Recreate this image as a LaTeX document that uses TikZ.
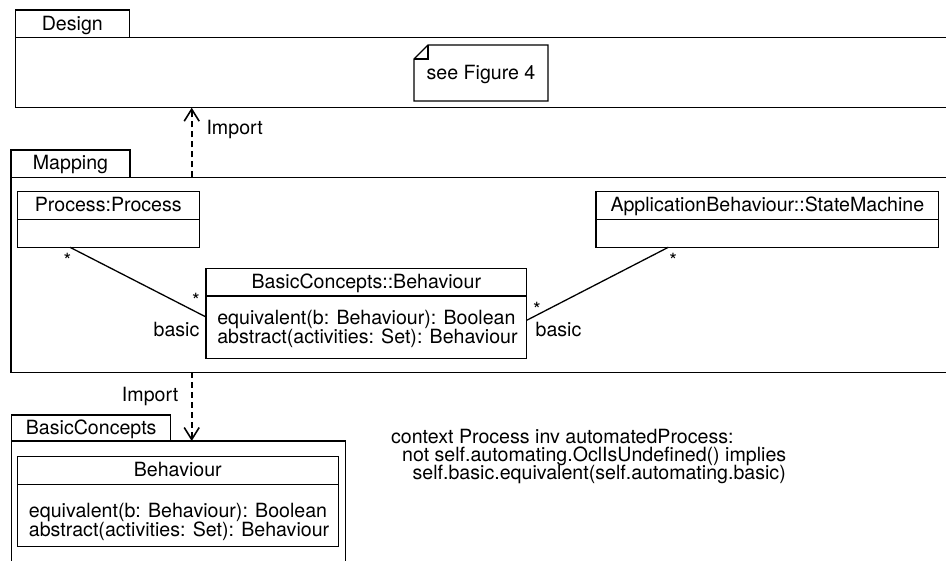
\documentclass[tikz,border=0pt]{standalone}
\usepackage{fontspec}
\setmainfont{TeX Gyre Heros}
\usetikzlibrary{arrows.meta}
\setlength{\lineskiplimit}{-10pt}

\begin{document}
\begin{tikzpicture}[x=1pt,y=-1pt,line width=1.3pt,
  every node/.style={font=\fontsize{19.6}{18.5}\selectfont},
  box/.style={draw,anchor=north west,inner sep=0pt,outer sep=0pt},
  head/.style={box,text height=14.5pt,text depth=2pt},
  ops/.style={anchor=base west,align=left,inner sep=0pt},
  lbl/.style={inner sep=0pt},
  import/.style={line width=1.6pt,dash pattern=on 6pt off 4pt,-{Straight Barb[length=12pt,width=15pt]}}]
\useasboundingbox (0,0) rectangle (946,561);
\clip (0,0) rectangle (946,561);

% Design
\node[head,minimum width=114pt,minimum height=27.7pt] (destab) at (15.3,10) {Design};
\node[box,minimum width=950pt,minimum height=70pt] (desbody) at (15.3,37.7) {};
\node[box,draw=none,minimum width=134pt,minimum height=56pt,text height=14.5pt,text depth=2pt] (note) at (414,45) {see Figure 4};
\draw ([yshift=-14pt]note.north west) -- ([xshift=14pt]note.north west) -- (note.north east) -- (note.south east) -- (note.south west) -- cycle;
\draw ([yshift=-14pt]note.north west) -| ([xshift=14pt]note.north west);

% Mapping
\node[head,minimum width=119pt,minimum height=27.3pt] (maptab) at (11,150) {Mapping};
\node[box,minimum width=950pt,minimum height=195pt] (mapbody) at (11,177.3) {};

\node[head,minimum width=182pt,minimum height=27.6pt] (proc) at (17.3,191.7) {Process:Process};
\node[box,minimum width=182pt,minimum height=28pt] (procb) at (proc.south west) {};

\node[head,minimum width=342.7pt,minimum height=27.6pt] (sm) at (596,191.7) {ApplicationBehaviour::StateMachine};
\node[box,minimum width=342.7pt,minimum height=28pt] (smb) at (sm.south west) {};

\node[head,minimum width=320.7pt,minimum height=27.7pt] (bc) at (206,268.3) {BasicConcepts::Behaviour};
\node[box,minimum width=320.7pt,minimum height=62.3pt] (bcb) at (bc.south west) {};
\node[ops] (bcops) at (216.7,343.3) {equivalent(b: Behaviour): Boolean\\abstract(activities: Set): Behaviour};

\draw ([xshift=52.7pt]procb.south west) -- ([yshift=-21pt]bcb.north west);
\draw ([yshift=-24.3pt]bcb.north east) -- ([xshift=72.3pt]smb.south west);
\node[lbl,anchor=base] (m1) at (67.5,267.7) {*};
\node[lbl,anchor=base] (m2) at (196,307.7) {*};
\node[lbl,anchor=base east] (r1) at (200,337) {basic};
\node[lbl,anchor=base] (m3) at (537,316.4) {*};
\node[lbl,anchor=base] (m4) at (673.3,267.7) {*};
\node[lbl,anchor=base west] (r2) at (535,337) {basic};

% BasicConcepts
\node[head,minimum width=159pt,minimum height=26pt] (bctab) at (11.7,415) {BasicConcepts};
\node[box,minimum width=334pt,minimum height=130pt] (bcpbody) at (11.7,441) {};

\node[head,minimum width=321pt,minimum height=27.6pt] (beh) at (17.3,456.7) {Behaviour};
\node[box,minimum width=321pt,minimum height=62.4pt] (behb) at (beh.south west) {};
\node[ops] (behops) at (28.3,536) {equivalent(b: Behaviour): Boolean\\abstract(activities: Set): Behaviour};

% imports
\coordinate (imp) at (191.7,0);
\draw[import] (imp |- mapbody.north) -- (imp |- desbody.south) node[lbl,pos=0.61,anchor=base west,xshift=14pt] (imp1) {Import};
\draw[import] (imp |- mapbody.south) -- (imp |- bcpbody.north) node[lbl,pos=0.42,anchor=base east,xshift=-12.7pt] (imp2) {Import};

% constraint
\node[ops,font=\fontsize{19.6}{17.6}\selectfont] (ocl) at (390.5,479) {context Process inv automatedProcess:\\
\hspace*{11pt}not self.automating.OclIsUndefined() implies\\
\hspace*{21.5pt}self.basic.equivalent(self.automating.basic)};
\end{tikzpicture}
\end{document}
